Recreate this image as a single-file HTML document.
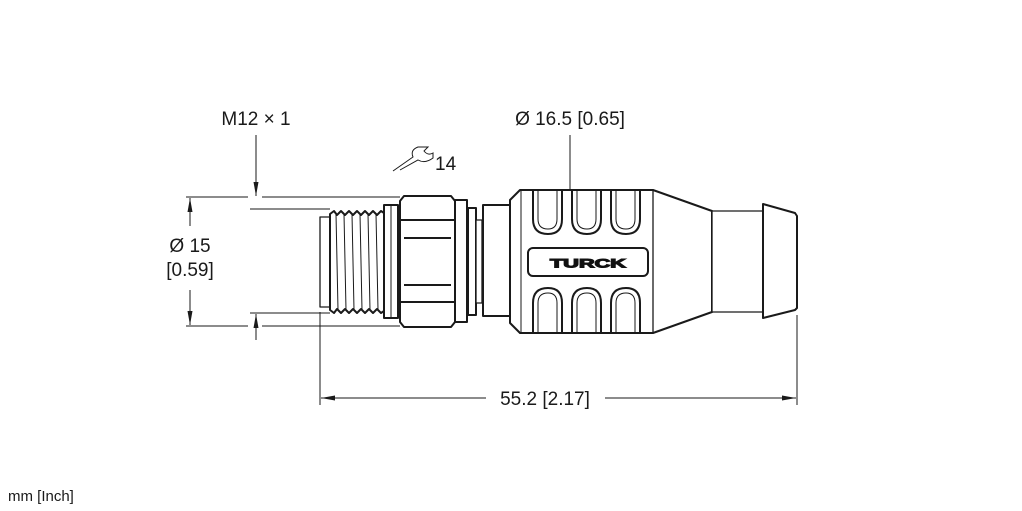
<!DOCTYPE html>
<html><head><meta charset="utf-8"><style>
html,body{margin:0;padding:0;background:#fff;}
svg{display:block;}
text{font-family:"Liberation Sans",sans-serif;fill:#1a1a1a;}
</style></head><body>
<svg width="1022" height="511" viewBox="0 0 1022 511" xmlns="http://www.w3.org/2000/svg">
<defs>
<marker id="ar" viewBox="0 0 14 6" refX="14" refY="3" markerWidth="14" markerHeight="6" orient="auto" markerUnits="userSpaceOnUse">
<path d="M0,0.5 L14,3 L0,5.5 z" fill="#1a1a1a"/></marker>
</defs>
<g stroke="#1a1a1a" stroke-width="1" fill="none">
<line x1="186" y1="197" x2="248" y2="197"/><line x1="262" y1="197" x2="400" y2="197"/>
<line x1="186" y1="326" x2="248" y2="326"/><line x1="262" y1="326" x2="400" y2="326"/>
<line x1="250" y1="209" x2="330" y2="209"/>
<line x1="250" y1="313" x2="330" y2="313"/>
<line x1="190" y1="226" x2="190" y2="198" marker-end="url(#ar)"/>
<line x1="190" y1="290" x2="190" y2="325" marker-end="url(#ar)"/>
<line x1="256" y1="135" x2="256" y2="196" marker-end="url(#ar)"/>
<line x1="256" y1="340" x2="256" y2="314" marker-end="url(#ar)"/>
<line x1="570" y1="135" x2="570" y2="190"/>
<line x1="320" y1="312" x2="320" y2="405"/>
<line x1="797" y1="315" x2="797" y2="405"/>
<line x1="486" y1="398" x2="321" y2="398" marker-end="url(#ar)"/>
<line x1="605" y1="398" x2="796" y2="398" marker-end="url(#ar)"/>
<path d="M393,171 L413,157 Q410,150 418,147 L428,147 L424,151 Q428,156 433,153 L433,158 Q425,164 418,160 L400,170"/>
</g>
<g stroke="#1a1a1a" stroke-width="2" fill="#fff" stroke-linejoin="round">
<rect x="320" y="217" width="10" height="90" stroke-width="1.3"/>
<path d="M330,214 L334,211 L337,215 L341,211 L345,215 L349,211 L353,215 L357,211 L361,215 L365,211 L369,215 L373,211 L377,215 L381,211 L384,213 L384,311 L381,313 L377,309 L373,313 L369,309 L365,313 L361,309 L357,313 L353,309 L349,313 L345,309 L341,313 L337,309 L334,313 L330,310 Z"/>
<g stroke-width="1"><line x1="336" y1="214" x2="338" y2="310"/><line x1="344" y1="214" x2="346" y2="310"/><line x1="352" y1="214" x2="354" y2="310"/><line x1="360" y1="214" x2="362" y2="310"/><line x1="368" y1="214" x2="370" y2="310"/><line x1="376" y1="214" x2="378" y2="310"/></g>
<rect x="384" y="205" width="14" height="113"/>
<line x1="391" y1="205" x2="391" y2="318" stroke-width="1"/>
<path d="M400,201 L404,196 L451,196 L455,201 L455,322 L451,327 L404,327 L400,322 Z"/>
<line x1="401" y1="220" x2="454" y2="220" stroke-width="2"/>
<line x1="404" y1="238" x2="451" y2="238" stroke-width="2"/>
<line x1="404" y1="285" x2="451" y2="285" stroke-width="2"/>
<line x1="401" y1="302" x2="454" y2="302" stroke-width="2"/>
<rect x="455" y="200" width="12" height="122"/>
<rect x="468" y="208" width="8" height="107"/>
<rect x="476" y="220" width="6" height="83" stroke-width="1.3"/>
<rect x="483" y="205" width="27" height="111"/>
<path d="M510,200 L520,190 L653,190 L712,211 L712,312 L653,333 L520,333 L510,323 Z"/>
<line x1="521" y1="191" x2="521" y2="332" stroke-width="1"/>
<line x1="653" y1="190" x2="653" y2="333" stroke-width="1.3"/>
<g fill="none" stroke-width="2">
<path d="M533,191 L533,219 Q533,234 548,234 Q562,234 562,219 L562,191"/>
<path d="M538,191 L538,219 Q538,229 548,229 Q557,229 557,219 L557,191" stroke-width="1"/>
<path d="M572,191 L572,219 Q572,234 587,234 Q601,234 601,219 L601,191"/>
<path d="M577,191 L577,219 Q577,229 587,229 Q596,229 596,219 L596,191" stroke-width="1"/>
<path d="M611,191 L611,219 Q611,234 626,234 Q640,234 640,219 L640,191"/>
<path d="M616,191 L616,219 Q616,229 626,229 Q635,229 635,219 L635,191" stroke-width="1"/>
<path d="M533,332 L533,303 Q533,288 548,288 Q562,288 562,303 L562,332"/>
<path d="M538,332 L538,303 Q538,293 548,293 Q557,293 557,303 L557,332" stroke-width="1"/>
<path d="M572,332 L572,303 Q572,288 587,288 Q601,288 601,303 L601,332"/>
<path d="M577,332 L577,303 Q577,293 587,293 Q596,293 596,303 L596,332" stroke-width="1"/>
<path d="M611,332 L611,303 Q611,288 626,288 Q640,288 640,303 L640,332"/>
<path d="M616,332 L616,303 Q616,293 626,293 Q635,293 635,303 L635,332" stroke-width="1"/>
</g>
<rect x="528" y="248" width="120" height="28" rx="5"/>
<rect x="712" y="211" width="51" height="101" stroke-width="1.3"/>
<path d="M763,204 L795,213 L797,216 L797,308 L795,310 L763,318 Z"/>
</g>
<text x="0" y="0" text-anchor="middle" font-size="14" font-weight="bold" style="fill:#111;stroke:#111;stroke-width:1.2" transform="translate(588 267.5) scale(1.55 0.85)">TURCK</text>
<text x="256" y="125" text-anchor="middle" font-size="19">M12 × 1</text>
<text x="570" y="125" text-anchor="middle" font-size="19">Ø 16.5 [0.65]</text>
<text x="435" y="170" font-size="19">14</text>
<text x="190" y="252" text-anchor="middle" font-size="19">Ø 15</text>
<text x="190" y="276" text-anchor="middle" font-size="19">[0.59]</text>
<text x="545" y="405" text-anchor="middle" font-size="19">55.2 [2.17]</text>
<text x="8" y="501" font-size="15">mm [Inch]</text>
</svg>
</body></html>
